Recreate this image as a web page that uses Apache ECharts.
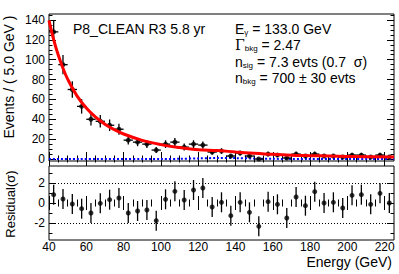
<!DOCTYPE html>
<html><head><meta charset="utf-8">
<script src="https://cdn.jsdelivr.net/npm/echarts@6/dist/echarts.min.js"></script>
<style>html,body{margin:0;padding:0;background:#fff}#c{width:399px;height:274px}</style>
</head><body><div id="c"></div>
<script>
// ---- data ----
const binCenters = [42.5,47.5,52.5,57.5,62.5,67.5,72.5,77.5,82.5,87.5,92.5,97.5,102.5,107.5,112.5,117.5,122.5,127.5,132.5,137.5,142.5,147.5,152.5,157.5,162.5,167.5,172.5,177.5,182.5,187.5,192.5,197.5,202.5,207.5,212.5,217.5,222.5];
const counts = [128,95,70,53,40,38,34,30,19,17,15,9,15,17,12,15,14,7,8,3,6,3,0,5,4,1,5,3,5,3,3,2,4,4,2,4,2];
const countErr = [11.3,9.7,8.4,7.3,6.3,6.2,5.8,5.5,4.4,4.1,3.9,3.0,3.9,4.1,3.5,3.9,3.7,2.6,2.8,1.7,2.4,1.7,0,2.2,2.0,1.0,2.2,1.7,2.2,1.7,1.7,1.4,2.0,2.0,1.4,2.0,1.4];
const residuals = [0.83,0.4,-0.1,-0.57,-1.0,-0.03,0.33,0.5,-1.0,-0.8,-0.7,-1.77,0.37,1.17,0.3,1.3,1.5,-0.4,0.07,-1.27,0.07,-0.93,-2.33,0.13,-0.13,-1.5,0.6,-0.27,1.13,0,0.07,-0.5,0.77,0.83,-0.13,0.97,0];
const residualErr = [1,1,1,1,1,1,1,1,1,1,1,1,1,1,1,1,1,1,1,1,1,1,1,1,1,1,1,1,1,1,1,1,1,1,1,1,1];
const curveX = [40,42.5,45,47.5,50,55,60,65,70,75,80,90,100,110,120,130,140,150,160,170,180,190,200,210,225];
const curveY = [139.6,120.2,104.4,91.4,80.5,63.6,51.3,42.1,35.1,29.6,25.2,18.8,14.5,11.5,9.3,8.5,7.1,5.8,4.7,3.9,3.4,3.0,2.6,2.3,2.0];
const sigX = [40,100,110,120,130,140,150,160,170,225];
const sigY = [0,0,0.2,0.6,1.0,0.9,0.5,0.2,0,0];
const xMajorTicks = [40,60,80,100,120,140,160,180,200,220];
const xMinorTicks = [45,50,55,65,70,75,85,90,95,105,110,115,125,130,135,145,150,155,165,170,175,185,190,195,205,210,215];
const yMajorTicks = [0,20,40,60,80,100,120,140];
const yMinorTicks = [5,10,15,25,30,35,45,50,55,65,70,75,85,90,95,105,110,115,125,130,135,145];
const resMajorTicks = [-2,0,2];
const resMinorTicks = [-3,-1,1,3];
const resGuides = [-2,2];

const FONT = '"Liberation Sans", Arial, Helvetica, sans-serif';
const chart = echarts.init(document.getElementById('c'), null, {renderer:'svg'});

function xAx(grid, pos, ticks, len, labels){
  return {type:'value', gridIndex:grid, position:pos, min:40, max:225,
    axisLine:{show:false}, splitLine:{show:false},
    axisTick:{show:true, inside:true, length:len, customValues:ticks, lineStyle:{color:'#000', width:1}},
    axisLabel: labels ? {show:true, customValues:labels, margin:1, color:'#000', fontSize:12, lineHeight:12, fontFamily:FONT} : {show:false}};
}
function yAx(grid, pos, min, max, ticks, len, labels){
  return {type:'value', gridIndex:grid, position:pos, min:min, max:max,
    axisLine:{show:false}, splitLine:{show:false},
    axisTick:{show:true, inside:true, length:len, customValues:ticks, lineStyle:{color:'#000', width:1}},
    axisLabel: labels ? {show:true, customValues:labels, margin:4, color:'#000', fontSize:12, fontFamily:FONT} : {show:false}};
}

const Y0MIN=-2, Y0MAX=146, R_MIN=-3.7, R_MAX=3.7;

function errBars(withX){
  return function(params, api){
    const x=api.value(0), y=api.value(1), e=api.value(2);
    const ch=[];
    const q0=api.coord([x,y-e]), q1=api.coord([x,y+e]);
    ch.push({type:'line', shape:{x1:q0[0],y1:q0[1],x2:q1[0],y2:q1[1]}, style:{stroke:'#000', lineWidth:1.3}});
    if(withX){
      const p0=api.coord([x-2.5,y]), p1=api.coord([x+2.5,y]);
      ch.push({type:'line', shape:{x1:p0[0],y1:p0[1],x2:p1[0],y2:p1[1]}, style:{stroke:'#000', lineWidth:1.3}});
    }
    return {type:'group', children:ch};
  };
}

const option = {
  animation:false,
  backgroundColor:'#fff',
  grid:[
    {left:49, top:14, width:345, height:147, show:true, borderColor:'#000', borderWidth:1, backgroundColor:'transparent'},
    {left:49, top:166, width:345, height:74, show:true, borderColor:'#000', borderWidth:1, backgroundColor:'transparent'}
  ],
  xAxis:[
    xAx(0,'bottom',xMajorTicks,7,null),
    xAx(0,'bottom',xMinorTicks,3.5,null),
    xAx(0,'top',xMajorTicks,7,null),
    xAx(0,'top',xMinorTicks,3.5,null),
    xAx(1,'bottom',xMajorTicks,7,xMajorTicks),
    xAx(1,'bottom',xMinorTicks,3.5,null),
    xAx(1,'top',xMajorTicks,7,null),
    xAx(1,'top',xMinorTicks,3.5,null)
  ],
  yAxis:[
    yAx(0,'left',Y0MIN,Y0MAX,yMajorTicks,7,yMajorTicks),
    yAx(0,'left',Y0MIN,Y0MAX,yMinorTicks,3.5,null),
    yAx(0,'right',Y0MIN,Y0MAX,yMajorTicks,7,null),
    yAx(0,'right',Y0MIN,Y0MAX,yMinorTicks,3.5,null),
    yAx(1,'left',R_MIN,R_MAX,resMajorTicks,7,resMajorTicks),
    yAx(1,'left',R_MIN,R_MAX,resMinorTicks,3.5,null),
    yAx(1,'right',R_MIN,R_MAX,resMajorTicks,7,null),
    yAx(1,'right',R_MIN,R_MAX,resMinorTicks,3.5,null)
  ],
  series:[
    {type:'line', xAxisIndex:0, yAxisIndex:0, data:sigX.map((x,i)=>[x,sigY[i]]), smooth:0.3, showSymbol:false,
     lineStyle:{color:'#0000ff', width:2, type:[2,2]}, z:2},
    {type:'custom', xAxisIndex:0, yAxisIndex:0, renderItem:errBars(true),
     data:binCenters.map((x,i)=>[x,counts[i],countErr[i]]), z:3},
    {type:'scatter', xAxisIndex:0, yAxisIndex:0, data:binCenters.map((x,i)=>[x,counts[i]]),
     symbol:'circle', symbolSize:5, itemStyle:{color:'#000'}, z:4},
    {type:'line', xAxisIndex:0, yAxisIndex:0, data:curveX.map((x,i)=>[x,curveY[i]]), smooth:0.4, showSymbol:false,
     lineStyle:{color:'#ff0000', width:3}, z:5},
    {type:'custom', xAxisIndex:4, yAxisIndex:4, renderItem:errBars(false),
     data:binCenters.map((x,i)=>[x,residuals[i],residualErr[i]]), z:3},
    {type:'scatter', xAxisIndex:4, yAxisIndex:4, data:binCenters.map((x,i)=>[x,residuals[i]]),
     symbol:'circle', symbolSize:5, itemStyle:{color:'#000'}, z:4,
     markLine:{silent:true, symbol:'none', label:{show:false},
       lineStyle:{color:'#000', width:1, type:[1,2]},
       data:resGuides.map(v=>({yAxis:v}))}}
  ],
  graphic:[
    {type:'text', x:73, y:29, style:{text:'P8_CLEAN R3 5.8 yr', fontSize:14, fontFamily:FONT, fill:'#000', verticalAlign:'middle'}},
    {type:'text', x:235, y:29, style:{text:'E{s|γ} = 133.0 GeV', fontSize:14, fontFamily:FONT, fill:'#000', verticalAlign:'middle',
      rich:{s:{fontSize:8, fontFamily:FONT, verticalAlign:'bottom', padding:[6,0,0,0]}}}},
    {type:'text', x:235, y:45, style:{text:'{g|Γ}{s|bkg} = 2.47', fontSize:14, fontFamily:FONT, fill:'#000', verticalAlign:'middle',
      rich:{g:{fontSize:14, fontFamily:'"DejaVu Serif", serif'}, s:{fontSize:8, fontFamily:FONT, verticalAlign:'bottom', padding:[6,0,0,0]}}}},
    {type:'text', x:235, y:62, style:{text:'n{s|sig} = 7.3 evts (0.7  σ)', fontSize:14, fontFamily:FONT, fill:'#000', verticalAlign:'middle',
      rich:{s:{fontSize:8, fontFamily:FONT, verticalAlign:'bottom', padding:[6,0,0,0]}}}},
    {type:'text', x:235, y:78, style:{text:'n{s|bkg} = 700 ± 30 evts', fontSize:14, fontFamily:FONT, fill:'#000', verticalAlign:'middle',
      rich:{s:{fontSize:8, fontFamily:FONT, verticalAlign:'bottom', padding:[6,0,0,0]}}}},
    {type:'text', x:9, y:77, rotation:Math.PI/2, style:{text:'Events / ( 5.0 GeV )', fontSize:14, fontFamily:FONT, fill:'#000', align:'center', verticalAlign:'middle'}},
    {type:'text', x:10, y:204, rotation:Math.PI/2, style:{text:'Residual(σ)', fontSize:13, fontFamily:FONT, fill:'#000', align:'center', verticalAlign:'middle'}},
    {type:'text', x:392, y:262, style:{text:'Energy (GeV)', fontSize:14, lineHeight:14, fontFamily:FONT, fill:'#000', align:'right', verticalAlign:'middle'}}
  ]
};
chart.setOption(option);
</script></body></html>
